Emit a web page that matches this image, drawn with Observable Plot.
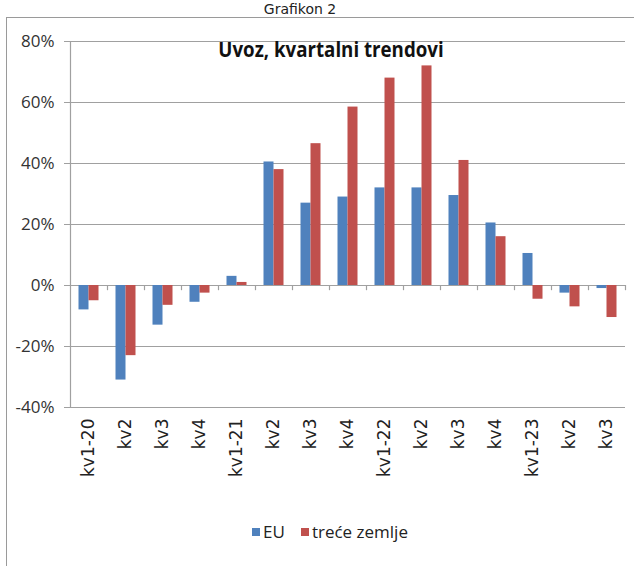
<!DOCTYPE html>
<html>
<head>
<meta charset="utf-8">
<script src="https://cdn.jsdelivr.net/npm/d3@7"></script>
<script src="https://cdn.jsdelivr.net/npm/@observablehq/plot@0.6"></script>
<style>
  html, body { margin: 0; padding: 0; background: #fff; }
  #wrap { position: relative; width: 634px; height: 566px; overflow: hidden; font-family: "Open Sans", sans-serif; }
  #frame { position: absolute; left: 6px; top: 17px; width: 700px; height: 700px; border-left: 1.5px solid #9a9a9a; border-top: 1.5px solid #9a9a9a; }
  #grafikon { position: absolute; left: 0; width: 600px; top: 2px; line-height: 15px; text-align: center; font-family: "DejaVu Sans", sans-serif; font-size: 14px; color: #222; }
  #title { position: absolute; left: 156px; width: 350px; top: 33px; text-align: center; font-family: "Open Sans", sans-serif; font-weight: bold; font-size: 22px; color: #111; transform: scaleX(0.85); transform-origin: 175px 0; }
  #legend { position: absolute; left: 0; width: 660px; top: 520px; text-align: center; font-family: "Open Sans", sans-serif; font-size: 17px; color: #222; }
  #legend span.sw { display: inline-block; width: 8px; height: 8px; margin-right: 3px; vertical-align: 2px; }
  #legend span.item { margin: 0 8px; }
  svg { position: absolute; left: 0; top: 0; }
</style>
</head>
<body>
<div id="wrap">
  <div id="frame"></div>
  <div id="grafikon">Grafikon 2</div>
  <div id="chart"></div>
  <div id="title">Uvoz, kvartalni trendovi</div>
  <div id="legend"></div>
</div>
<script>
const quarters = ["kv1-20","kv2","kv3","kv4","kv1-21","kv2","kv3","kv4","kv1-22","kv2","kv3","kv4","kv1-23","kv2","kv3"];
const euValues = [-8, -31, -13, -5.5, 3, 40.5, 27, 29, 32, 32, 29.5, 20.5, 10.5, -2.5, -1];
const thirdValues = [-5, -23, -6.5, -2.5, 1, 38, 46.5, 58.5, 68, 72, 41, 16, -4.5, -7, -10.5];
const seriesNames = ["EU", "treće zemlje"];
const seriesColors = ["#4f81bd", "#c0504d"];
const yTicks = [-40, -20, 0, 20, 40, 60, 80];

const rows = quarters.map((q, i) => ({i, q, eu: euValues[i], third: thirdValues[i]}));
const idx = d3.range(quarters.length);
const grid = "#a0a0a0";

const chart = Plot.plot({
  width: 634,
  height: 566,
  marginLeft: 70,
  marginRight: 9,
  marginTop: 41,
  marginBottom: 159,
  style: {fontFamily: "'Open Sans', sans-serif", background: "transparent"},
  x: {type: "band", domain: idx, padding: 0},
  y: {domain: [-40, 80]},
  marks: [
    Plot.ruleY(yTicks, {stroke: grid, strokeWidth: 1.2}),
    Plot.barY(rows, {x: "i", y: "eu", fill: seriesColors[0], insetLeft: 8.5, insetRight: 18.5}),
    Plot.barY(rows, {x: "i", y: "third", fill: seriesColors[1], insetLeft: 18.5, insetRight: 8.5}),
    Plot.ruleX(idx.slice(1), {x: d => d, dx: -18.5, y1: 0, y2: -1.7, stroke: grid, strokeWidth: 1.2}),
    Plot.ruleX([idx[idx.length - 1]], {x: d => d, dx: 18.5, y1: 0, y2: -1.7, stroke: grid, strokeWidth: 1.2}),
    Plot.frame({anchor: "left", stroke: grid, strokeWidth: 1.2}),
    Plot.axisY({ticks: yTicks, tickSize: 6, tickPadding: 10, tickFormat: d => d + "%", fontSize: 17, stroke: grid, fill: "#333"}),
    Plot.axisX({tickFormat: i => quarters[i], tickSize: 0, tickPadding: 11, tickRotate: -90, fontSize: 17, fontFamily: "'DejaVu Sans', sans-serif", fill: "#222", label: null})
  ]
});
document.getElementById("chart").appendChild(chart);

const legend = document.getElementById("legend");
seriesNames.forEach((n, k) => {
  const item = document.createElement("span");
  item.className = "item";
  const sw = document.createElement("span");
  sw.className = "sw";
  sw.style.background = seriesColors[k];
  item.appendChild(sw);
  item.appendChild(document.createTextNode(n));
  legend.appendChild(item);
});
</script>
</body>
</html>
